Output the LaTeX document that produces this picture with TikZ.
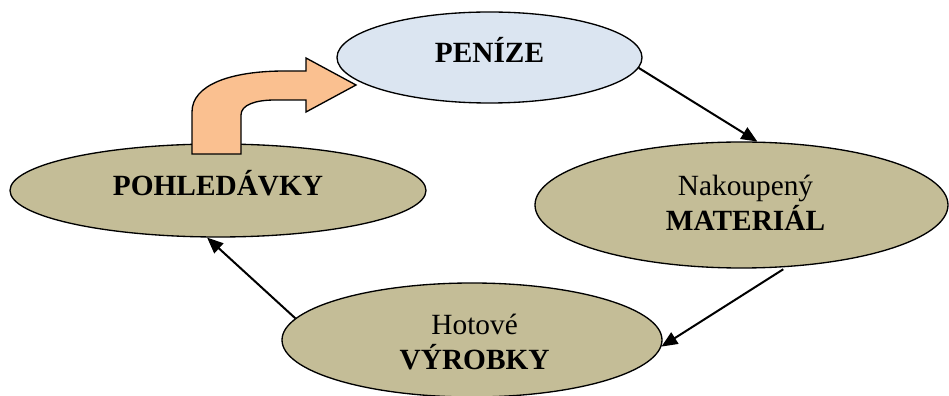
\documentclass[tikz,border=0pt]{standalone}
\usepackage{fontspec}
\setmainfont{Liberation Serif}
\usetikzlibrary{shapes.geometric,arrows.meta}

\definecolor{moneyblue}{RGB}{219,229,241}
\definecolor{stocktan}{RGB}{196,189,151}
\definecolor{bentorange}{RGB}{250,192,144}

\begin{document}
\begin{tikzpicture}[x=0.75pt,y=0.75pt,
  cell/.style={ellipse, draw=black, line width=1pt, inner sep=0pt},
  txt/.style={font=\fontsize{22}{26.25}\selectfont, align=center},
  flow/.style={line width=1.5pt, -{Triangle[length=12pt,width=10pt]}}]

\useasboundingbox (0,0) rectangle (949,396);

% === The four stages of the cycle ===
\node[cell, fill=moneyblue, minimum width=228.75pt, minimum height=68.25pt] (penize) at (489.5,338.5) {};
\node[cell, fill=stocktan, minimum width=312pt, minimum height=69.75pt] (pohled) at (218,205.5) {};
\node[cell, fill=stocktan, minimum width=309.75pt, minimum height=94.5pt] (material) at (741.5,191) {};
\node[cell, fill=stocktan, minimum width=285pt, minimum height=85.5pt] (vyrobky) at (472,56) {};

% Labels (single-line ones sit a bit above the centre)
\node[txt] (penizeT) at ([yshift=5.6pt]penize.center) {\textbf{PENÍZE}};
\node[txt] (pohledT) at ([yshift=5.6pt]pohled.center) {\textbf{POHLEDÁVKY}};
\node[txt] (materialT) at ([xshift=3pt,yshift=1.5pt]material.center) {Nakoupený\\\textbf{MATERIÁL}};
\node[txt] (vyrobkyT) at ([xshift=2pt,yshift=-1.5pt]vyrobky.center) {Hotové\\\textbf{VÝROBKY}};

% === Connectors ===
\draw[flow] (penize.-4) -- (material.76);
\draw[flow, shorten <=3pt] (material.-54) -- (vyrobky.-2);
\draw[flow] (vyrobky.173) -- (pohled.257);

% === Bent arrow back to money ===
\draw[line width=1pt, fill=bentorange]
  (192,242) -- (192,284)
  .. controls (192,311) and (230,325) .. (285,325)
  -- (306,325) -- (306,338) -- (356,311) -- (306,284) -- (306,296)
  -- (275,296)
  .. controls (255,296) and (241,291) .. (241,281)
  -- (241,242) -- cycle;

\end{tikzpicture}
\end{document}
